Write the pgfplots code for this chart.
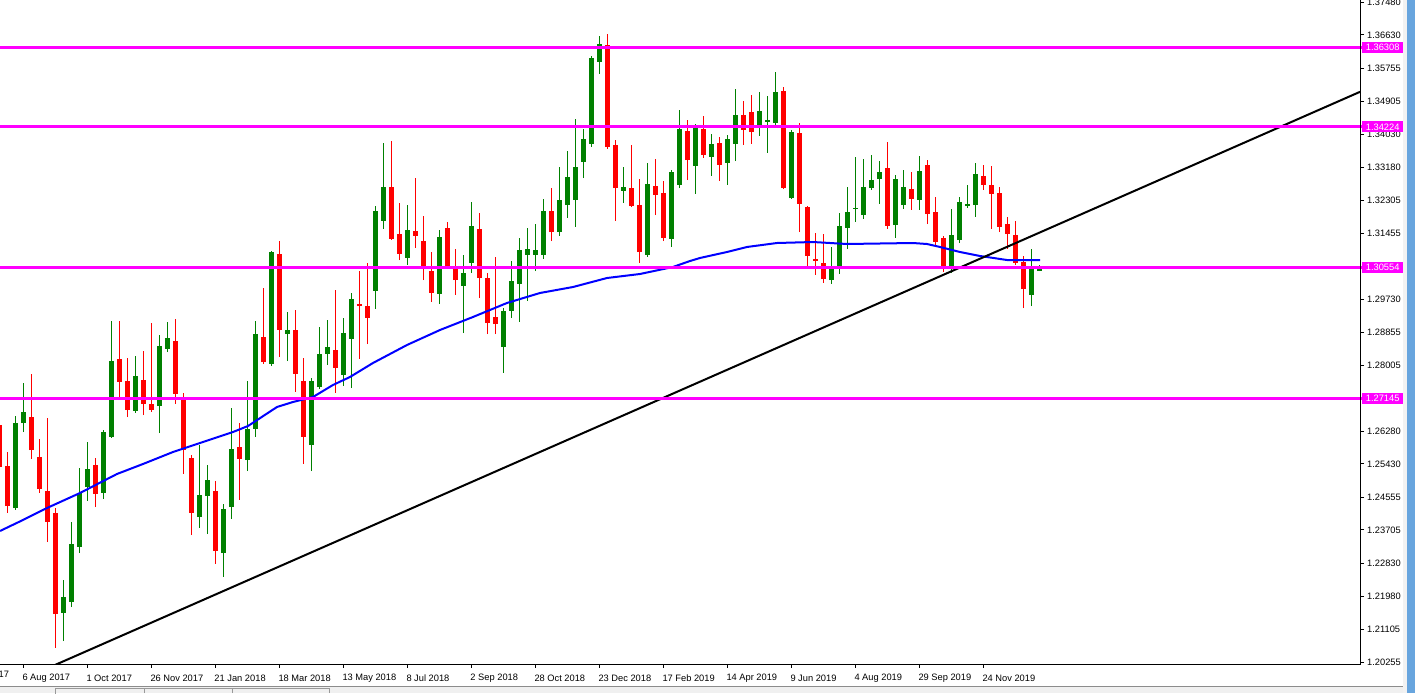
\documentclass[border=0pt]{standalone}
\usepackage{pgfplots}
\pgfplotsset{compat=1.18}
\usepackage{pgfplotstable}
\usepackage{fontspec}
\setmainfont{Liberation Sans}
\definecolor{bull}{RGB}{0,128,0}
\definecolor{bear}{RGB}{255,0,0}
\definecolor{mag}{RGB}{255,0,255}
\definecolor{maline}{RGB}{0,0,255}
\definecolor{stripblue}{RGB}{104,165,222}

% weekly candles: k = week index (0 = 6 Aug 2017), open high low close
\pgfplotstableread{
k o h l c
-1 1.24276 1.26678 1.24224 1.26495
0 1.26495 1.27540 1.26260 1.26783
5 1.21535 1.22396 1.20803 1.21952
6 1.21822 1.23911 1.21691 1.23336
7 1.23258 1.25321 1.23101 1.24668
8 1.24824 1.25999 1.24459 1.25294
10 1.24668 1.26313 1.24511 1.26260
11 1.26130 1.29159 1.26104 1.28114
14 1.26809 1.28245 1.26757 1.27723
17 1.26939 1.28793 1.26234 1.28506
18 1.28428 1.29133 1.28349 1.28715
22 1.24041 1.25921 1.23754 1.24616
23 1.24589 1.25399 1.23597 1.25007
25 1.23101 1.24381 1.22475 1.24250
26 1.24302 1.26887 1.23989 1.25817
28 1.25529 1.27592 1.25242 1.26339
29 1.26339 1.29159 1.26130 1.28819
31 1.28036 1.30986 1.27984 1.30960
33 1.28819 1.29394 1.28114 1.28924
36 1.25921 1.27670 1.25242 1.27592
37 1.27435 1.29002 1.27383 1.28297
38 1.28297 1.29185 1.28010 1.28480
40 1.27749 1.29237 1.27462 1.28845
41 1.28689 1.29890 1.27409 1.29733
44 1.29942 1.32161 1.29472 1.32031
45 1.31770 1.33806 1.31561 1.32657
48 1.30804 1.32187 1.30621 1.31535
52 1.29864 1.31535 1.29603 1.31352
55 1.30073 1.30882 1.28845 1.30412
56 1.30673 1.32266 1.30412 1.31639
60 1.28480 1.29498 1.27801 1.29420
61 1.29420 1.30725 1.29237 1.30203
62 1.30125 1.31326 1.29133 1.31012
63 1.30882 1.31587 1.29681 1.31039
64 1.30882 1.31691 1.30464 1.31012
65 1.30882 1.32344 1.30778 1.32031
67 1.31482 1.33180 1.31378 1.32318
68 1.32187 1.33597 1.31848 1.32919
69 1.32318 1.34433 1.31613 1.33180
70 1.33310 1.34172 1.32892 1.33911
71 1.33780 1.36078 1.33702 1.36026
72 1.35921 1.36600 1.35608 1.36391
75 1.32553 1.33180 1.32240 1.32657
78 1.30882 1.33284 1.30830 1.32736
81 1.31300 1.33101 1.31091 1.33049
82 1.32710 1.34668 1.32631 1.34172
84 1.33206 1.34302 1.32475 1.34276
86 1.33441 1.34041 1.32945 1.33780
88 1.33284 1.34015 1.32710 1.33911
89 1.33780 1.35216 1.33336 1.34537
92 1.34224 1.35138 1.33989 1.34642
93 1.34355 1.35033 1.33545 1.34407
94 1.34328 1.35660 1.34276 1.35138
96 1.32370 1.34146 1.32344 1.34093
101 1.30229 1.31091 1.30125 1.30516
102 1.30595 1.31979 1.30386 1.31639
103 1.31587 1.32657 1.31039 1.32005
104 1.32083 1.33441 1.31744 1.32109
105 1.31926 1.33389 1.31822 1.32657
106 1.32631 1.33493 1.32579 1.32840
107 1.32866 1.33336 1.32214 1.33049
109 1.31665 1.32971 1.31326 1.32866
110 1.32187 1.33101 1.32083 1.32657
112 1.32318 1.33467 1.32057 1.33075
116 1.30569 1.32083 1.30412 1.31404
117 1.31274 1.32396 1.31195 1.32266
118 1.32161 1.32710 1.32109 1.32214
119 1.32187 1.33284 1.31874 1.32997
126 1.29838 1.31039 1.29550 1.30516
127 1.30464 1.30621 1.30464 1.30516
}\bulltab

\pgfplotstableread{
k o h l c
-3 1.26443 1.26574 1.25268 1.25347
-2 1.25373 1.25738 1.24146 1.24328
1 1.26652 1.27775 1.25556 1.25790
2 1.25608 1.26078 1.24668 1.24772
3 1.24720 1.26626 1.23388 1.23911
4 1.24146 1.24276 1.20621 1.21508
9 1.25399 1.25582 1.24302 1.24642
12 1.28167 1.29159 1.27174 1.27566
13 1.27592 1.28193 1.26652 1.26835
15 1.27618 1.28375 1.26704 1.26992
16 1.26992 1.29106 1.26783 1.26835
19 1.28636 1.29211 1.26992 1.27253
20 1.27122 1.27279 1.25164 1.25790
21 1.25582 1.25660 1.23571 1.24146
24 1.24720 1.24981 1.22814 1.23153
27 1.25869 1.26495 1.24485 1.25556
30 1.28741 1.30020 1.28036 1.28088
32 1.30908 1.31247 1.28219 1.28924
34 1.28924 1.29446 1.27305 1.27775
35 1.27592 1.28193 1.25425 1.26130
39 1.28401 1.29968 1.27279 1.27932
42 1.29603 1.30464 1.28167 1.29550
43 1.29550 1.30673 1.28558 1.29237
46 1.32657 1.33858 1.31274 1.31300
47 1.31430 1.32240 1.30751 1.30908
49 1.31509 1.32892 1.31065 1.31378
50 1.31247 1.31900 1.30229 1.30569
51 1.30464 1.30960 1.29655 1.29890
53 1.31587 1.31744 1.30516 1.30595
54 1.30516 1.31039 1.29838 1.30229
57 1.31561 1.31979 1.29759 1.30281
58 1.30281 1.30412 1.28819 1.29106
59 1.29263 1.30830 1.28819 1.29080
66 1.32031 1.32631 1.31247 1.31482
73 1.36365 1.36652 1.33650 1.33702
74 1.33754 1.33885 1.31770 1.32631
76 1.32631 1.33754 1.32135 1.32161
77 1.32187 1.32866 1.30673 1.30960
79 1.32684 1.33389 1.31926 1.32449
80 1.32501 1.32814 1.31247 1.31326
83 1.34120 1.34407 1.32840 1.33362
85 1.34172 1.34511 1.33415 1.33493
87 1.33806 1.33963 1.32814 1.33232
90 1.34537 1.34903 1.33754 1.34146
91 1.34616 1.35060 1.33780 1.34093
95 1.35164 1.35268 1.32605 1.32631
97 1.34067 1.34328 1.31482 1.32214
98 1.32135 1.32161 1.30595 1.30856
99 1.30778 1.31456 1.30360 1.30725
100 1.30673 1.31430 1.30151 1.30255
108 1.33154 1.33832 1.31561 1.31639
111 1.32605 1.33049 1.32057 1.32344
113 1.33232 1.33362 1.31691 1.31952
114 1.32005 1.32396 1.31143 1.31221
115 1.31326 1.31378 1.30438 1.30569
120 1.32945 1.33232 1.32579 1.32710
121 1.32710 1.33206 1.31561 1.32475
122 1.32501 1.32657 1.31482 1.31613
123 1.31691 1.31874 1.31039 1.31430
124 1.31404 1.31770 1.30621 1.30673
125 1.30699 1.30856 1.29498 1.29994
}\beartab

\begin{document}
\begin{tikzpicture}[x=1pt,y=1pt]
\begin{axis}[
  width=1360pt, height=664pt, scale only axis,
  xmin=-2.9125, xmax=167.0875, ymin=1.20203, ymax=1.3754,
  axis line style={draw=none},
  tick align=outside,
  xtick pos=bottom, ytick pos=right, yticklabel pos=right,
  major tick length=4pt,
  tick style={black, line width=0.8pt},
  xtick={0,8,16,24,32,40,48,56,64,72,80,88,96,104,112,120},
  xticklabels={6 Aug 2017,1 Oct 2017,26 Nov 2017,21 Jan 2018,18 Mar 2018,13 May 2018,8 Jul 2018,2 Sep 2018,28 Oct 2018,23 Dec 2018,17 Feb 2019,14 Apr 2019,9 Jun 2019,4 Aug 2019,29 Sep 2019,24 Nov 2019},
  ytick={1.20255,1.21105,1.21980,1.22830,1.23705,1.24555,1.25430,1.26280,1.28005,1.28855,1.29730,1.31455,1.32305,1.33180,1.34030,1.34905,1.35755,1.36630,1.37480},
  yticklabels={1.20255,1.21105,1.21980,1.22830,1.23705,1.24555,1.25430,1.26280,1.28005,1.28855,1.29730,1.31455,1.32305,1.33180,1.34030,1.34905,1.35755,1.36630,1.37480},
  xticklabel style={font=\fontsize{9.3}{11}\selectfont, anchor=west, inner sep=0pt, xshift=-1pt, yshift=-10pt},
  yticklabel style={font=\fontsize{9.3}{11}\selectfont, anchor=west, inner sep=0pt, xshift=3pt},
  /pgf/number format/assume math mode=true,
  wick/.style={draw=none, mark=none, error bars/.cd, y dir=plus, y explicit, error mark=none, error bar style={draw=#1, line width=1pt}},
  body/.style={draw=none, mark=none, error bars/.cd, y dir=plus, y explicit, error mark=none, error bar style={draw=#1, line width=5pt}},
]
% wicks
\addplot[wick=bull] table[x=k, y=l, y error plus expr=\thisrow{h}-\thisrow{l}] {\bulltab};
\addplot[wick=bear] table[x=k, y=l, y error plus expr=\thisrow{h}-\thisrow{l}] {\beartab};
% bodies
\addplot[body=bull] table[x=k, y=o, y error plus expr=\thisrow{c}-\thisrow{o}] {\bulltab};
\addplot[body=bear] table[x=k, y=c, y error plus expr=\thisrow{o}-\thisrow{c}] {\beartab};
% moving average
\addplot[maline, line width=2pt, no marks] coordinates {
(-2.91,1.23676) (-0.04,1.23963) (2.96,1.24276) (7.09,1.24668) (11.71,1.25164) (14.96,1.25425) (18.71,1.25738) (22.09,1.25973) (26.21,1.26260) (28.09,1.26417) (31.71,1.26913) (33.71,1.27044) (36.21,1.27174) (38.71,1.27488) (40.84,1.27697) (43.71,1.28062) (47.96,1.28532) (52.09,1.28924) (56.21,1.29263) (60.46,1.29629) (64.59,1.29890) (68.71,1.30046) (72.96,1.30281) (77.09,1.30386) (81.21,1.30569) (83.34,1.30725) (84.59,1.30804) (87.96,1.30960) (90.46,1.31091) (94.21,1.31195) (98.71,1.31221) (102.96,1.31169) (111.21,1.31195) (112.96,1.31169) (114.59,1.31091) (117.09,1.30960) (119.59,1.30856) (122.96,1.30751) (127.09,1.30751)};
% trend line
\addplot[black, line width=2pt, no marks] coordinates {(3.96,1.20177) (167.09,1.35142)};
% horizontal levels
\addplot[mag, line width=3pt, no marks] coordinates {(-3,1.36308) (168,1.36308)};
\addplot[mag, line width=3pt, no marks] coordinates {(-3,1.34224) (168,1.34224)};
\addplot[mag, line width=3pt, no marks] coordinates {(-3,1.30554) (168,1.30554)};
\addplot[mag, line width=3pt, no marks] coordinates {(-3,1.27145) (168,1.27145)};
\coordinate (O) at (rel axis cs:0,0);
\coordinate (L1) at (axis cs:167.0875,1.36308);
\coordinate (L2) at (axis cs:167.0875,1.34224);
\coordinate (L3) at (axis cs:167.0875,1.30554);
\coordinate (L4) at (axis cs:167.0875,1.27145);
\end{axis}
% level labels
\foreach \p/\t in {L1/1.36308,L2/1.34224,L3/1.30554,L4/1.27145}{
  \draw[mag, line width=3pt] (\p) -- ++(3,0);
  \node[fill=mag, text=white, anchor=west, inner sep=0pt, minimum width=41pt, minimum height=11pt,
        font=\fontsize{9.3}{11}\selectfont] at ([xshift=2pt]\p) {\t};
}
\begin{scope}[shift={(O)}, yshift=-29pt]
% axis lines
\draw[black, line width=1pt] (0,29) -- (1360,29) -- (1360,693);
% date label of the week cut off at the left edge (11 Jun 2017)
\node[anchor=west, inner sep=0pt, font=\fontsize{9.3}{11}\selectfont] at (-41.7,19) {11 Jun 2017};
% window chrome
\fill[black!6] (0,0) rectangle (1415,7);
\draw[black!45, line width=0.8pt] (0,7) -- (1403,7);
\draw[black!40, line width=0.8pt] (55,-1) -- (55,5) -- (329,5);
\draw[black!40, line width=0.8pt] (144,0) -- (144,5);
\draw[black!40, line width=0.8pt] (232,0) -- (232,5);
\draw[black!40, line width=0.8pt] (329,0) -- (329,5);
\fill[black!5] (1403,0) rectangle (1407,693);
\fill[stripblue] (1407,0) rectangle (1415,693);
\end{scope}
\pgfresetboundingbox
\path[use as bounding box] (O) ++(0,-29) rectangle ++(1415,693);
\end{tikzpicture}
\end{document}
